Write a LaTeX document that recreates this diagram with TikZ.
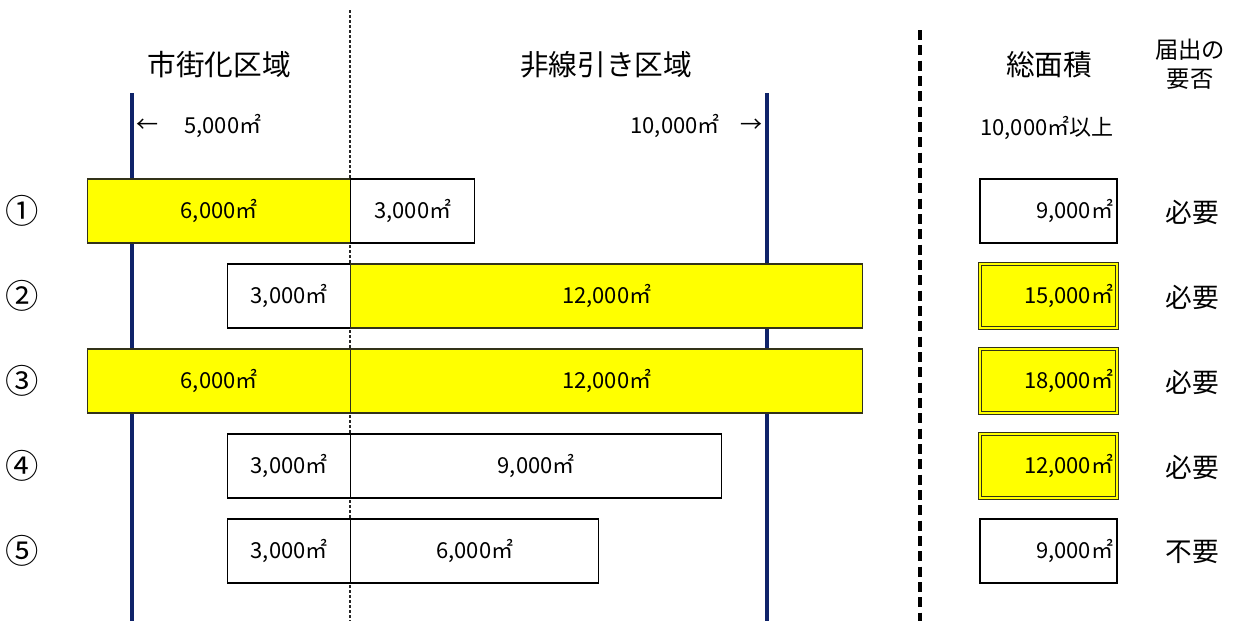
\documentclass[tikz,border=0pt]{standalone}
\usepackage{fontspec}
\setmainfont{Noto Sans CJK JP}
\definecolor{navyline}{RGB}{15,35,105}
\definecolor{barline}{RGB}{50,50,25}
\definecolor{barfill}{RGB}{255,255,0}
\begin{document}
\begin{tikzpicture}[x=0.75pt,y=-0.75pt,
  every node/.style={inner sep=0pt},
  numf/.style={font=\fontsize{16.5}{18}\selectfont},
  seg/.style={numf, anchor=west, minimum height=48pt, line width=1.1pt, minimum width=#1*0.75pt},
  ybar/.style={seg=#1, fill=barfill, draw=barline},
  wbar/.style={seg=#1, fill=white, draw=black},
  tot/.style={numf, minimum width=102.75pt, minimum height=48pt, text width=97pt, align=right, anchor=center},
  totw/.style={tot, draw=black, fill=white, line width=1.1pt},
  toty/.style={tot, draw=barline, double=barfill, double distance=1.4pt, line width=0.9pt, fill=barfill},
  head/.style={font=\fontsize{21.5}{24}\selectfont},
  circ/.style={font=\fontsize{25}{27}\selectfont},
  need/.style={font=\fontsize{20}{22}\selectfont},
  bluel/.style={navyline, line width=2.6pt},
  dotl/.style={black!85, line width=0.8pt, dash pattern=on 2.25pt off 1.5pt},
  thickdash/.style={black, line width=2.6pt, dash pattern=on 7.5pt off 4pt}
]
\fill[white] (0,0) rectangle (1237,621);
\useasboundingbox (0,0) rectangle (1237,621);

% vertical lines
\coordinate (b1t) at (132,93);  \coordinate (b1b) at (132,621);
\coordinate (b2t) at (767,93);  \coordinate (b2b) at (767,621);
\coordinate (dt) at (350,10);   \coordinate (db) at (350,621);
\coordinate (kt) at (920,30);   \coordinate (kb) at (920,621);
\draw[bluel] (b1t) -- (b1b);
\draw[bluel] (b2t) -- (b2b);
\draw[dotl] (dt) -- (db);
\draw[thickdash] (kt) -- (kb);

% headers
\node[head] (h1) at (219,65) {市街化区域};
\node[head] (h2) at (606,65) {非線引き区域};
\node[head] (h3) at (1049,65) {総面積};
\node[font=\fontsize{17.5}{21.75}\selectfont, align=center] (h4) at (1190,64) {届出の\\要否};

% thresholds
\node[numf] (la) at (147,126) {←};
\node[numf, anchor=west] (lb) at (184,126) {5,000㎡};
\node[numf, anchor=east] (ra) at (720,126) {10,000㎡};
\node[numf] (rb) at (751,126) {→};
\node[numf] (tt) at (1047,128) {10,000㎡以上};

% row labels
\node[circ] (n1) at (22,211) {①};
\node[circ] (n2) at (22,296) {②};
\node[circ] (n3) at (22,381) {③};
\node[circ] (n4) at (22,466) {④};
\node[circ] (n5) at (22,551) {⑤};

% row 1
\node[ybar=263] (r1a) at (87,211) {6,000㎡};
\node[wbar=124] (r1b) at (350,211) {3,000㎡};
% row 2
\node[wbar=123] (r2a) at (227,296) {3,000㎡};
\node[ybar=512] (r2b) at (350,296) {12,000㎡};
% row 3
\node[ybar=263] (r3a) at (87,381) {6,000㎡};
\node[ybar=512] (r3b) at (350,381) {12,000㎡};
% row 4
\node[wbar=123] (r4a) at (227,466) {3,000㎡};
\node[wbar=371] (r4b) at (350,466) {9,000㎡};
% row 5
\node[wbar=123] (r5a) at (227,551) {3,000㎡};
\node[wbar=248] (r5b) at (350,551) {6,000㎡};

% totals
\node[totw] (t1) at (1048.5,211) {9,000㎡};
\node[toty] (t2) at (1048.5,296) {15,000㎡};
\node[toty] (t3) at (1048.5,381) {18,000㎡};
\node[toty] (t4) at (1048.5,466) {12,000㎡};
\node[totw] (t5) at (1048.5,551) {9,000㎡};

% need
\node[need] (q1) at (1192,212) {必要};
\node[need] (q2) at (1192,297) {必要};
\node[need] (q3) at (1192,382) {必要};
\node[need] (q4) at (1192,467) {必要};
\node[need] (q5) at (1192,552) {不要};
\end{tikzpicture}
\end{document}
